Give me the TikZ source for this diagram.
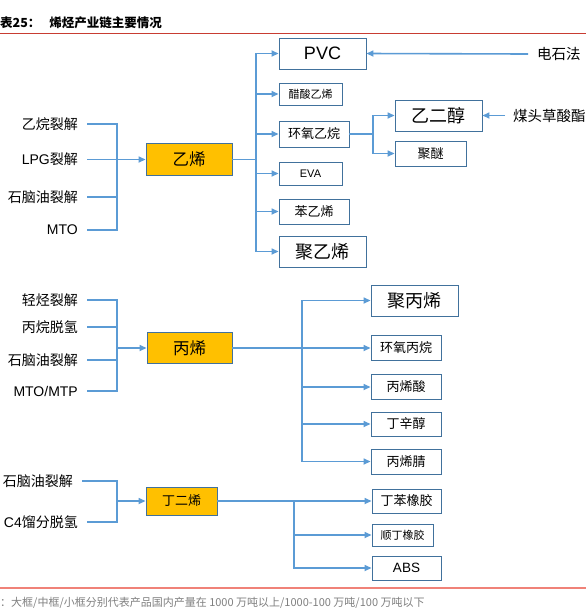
\documentclass[tikz,border=0pt]{standalone}
\usepackage{fontspec}
\setmainfont{Noto Sans CJK SC}
\newfontfamily\latin{Liberation Sans}
\usepackage{tikz}
\usetikzlibrary{arrows.meta}
\definecolor{flowblue}{RGB}{91,155,213}
\definecolor{boxedge}{RGB}{65,113,156}
\definecolor{olefin}{RGB}{255,192,0}
\definecolor{titlered}{RGB}{200,60,50}
\definecolor{notered}{RGB}{240,130,120}
\definecolor{notegray}{RGB}{128,128,128}

\begin{document}
\begin{tikzpicture}[x=1pt,y=-1pt,
    flow/.style={flowblue,line width=1.6pt},
    feedarrow/.style={flow,-{Triangle[length=7pt,width=6pt]}},
    src/.style={anchor=east,inner xsep=9pt,inner ysep=0pt,font=\fontsize{14}{16}\selectfont},
    side/.style={anchor=west,inner xsep=9pt,inner ysep=0pt,font=\fontsize{14.5}{16}\selectfont},
    olefinbox/.style={draw=boxedge,fill=olefin,line width=0.9pt,inner sep=0pt},
    bigbox/.style={draw=boxedge,line width=0.9pt,inner sep=0pt,minimum width=87pt,minimum height=31pt,font=\fontsize{18}{20}\selectfont},
    midbox/.style={draw=boxedge,line width=0.9pt,inner sep=0pt,minimum width=70pt,minimum height=25pt,font=\fontsize{13}{15}\selectfont},
    smallbox/.style={draw=boxedge,line width=0.9pt,inner sep=0pt,minimum width=62pt,minimum height=22pt,font=\fontsize{11}{13}\selectfont}
  ]
    \path[use as bounding box,fill=white] (0,0) rectangle (586,614);
    \clip (0,0) rectangle (586,614);

    % Title and rules
    \node[anchor=west,inner sep=0pt,font=\fontsize{12.5}{14}\selectfont\bfseries] (title) at (0,23) {表25：\hspace{9pt}烯烃产业链主要情况};
    \draw[titlered,line width=1pt] (0,33) -- (586,33);
    \draw[notered,line width=1.5pt] (0,588) -- (586,588);
    \node[anchor=west,inner sep=0pt,notegray,font=\fontsize{11}{12}\selectfont] (note) at (0,603) {：大框/中框/小框分别代表产品国内产量在 1000 万吨以上/1000-100 万吨/100 万吨以下};

    % Ethylene chain
    \node[src] (ethane) at (87,124) {乙烷裂解};
    \node[src] (lpg) at (87,159.5) {{\latin LPG}裂解};
    \node[src] (naph1) at (87,197) {石脑油裂解};
    \node[src] (mto) at (87,230) {{\latin MTO}};
    \coordinate (ein) at (117,159.5);
    \node[olefinbox,minimum width=86pt,minimum height=32pt,font=\fontsize{16.5}{18}\selectfont] (eth) at (189,159.5) {乙烯};
    \foreach \s in {ethane,lpg,naph1,mto}
        \draw[flow] (\s.east) -| (ein);
    \draw[feedarrow] (ein) -- (eth.west);

    \node[bigbox] (pvc) at (322.5,53.5) {\latin PVC};
    \node[smallbox,minimum width=63pt] (vac) at (310.5,94) {醋酸乙烯};
    \node[midbox,minimum height=26pt] (eo) at (314,134) {环氧乙烷};
    \node[smallbox,minimum width=63pt,minimum height=23pt,font=\fontsize{11}{13}\selectfont\latin] (eva) at (310.5,173.5) {EVA};
    \node[midbox] (sty) at (314,211.5) {苯乙烯};
    \node[bigbox] (pe) at (322.5,251.5) {聚乙烯};
    \coordinate (eout) at (256,159.5);
    \draw[flow] (eth.east) -- (eout);
    \foreach \p in {pvc,vac,eo,eva,sty,pe}
        \draw[feedarrow] (eout) |- (\p.west);

    \node[side] (carbide) at (528,54) {电石法};
    \draw[feedarrow] (carbide.west) -- (pvc.east);

    % Ethylene oxide branch
    \node[bigbox] (meg) at (438.5,115.5) {乙二醇};
    \node[midbox,minimum width=71pt] (pether) at (430.5,153.5) {聚醚};
    \coordinate (eobus) at (373,134);
    \draw[flow] (eo.east) -- (eobus);
    \draw[feedarrow] (eobus) |- (meg.west);
    \draw[feedarrow] (eobus) |- (pether.west);
    \node[side,inner xsep=8pt] (coalox) at (505,115.5) {煤头草酸酯};
    \draw[feedarrow] (coalox.west) -- (meg.east);

    % Propylene chain
    \node[src] (lhc) at (87,300) {轻烃裂解};
    \node[src] (pdh) at (87,327) {丙烷脱氢};
    \node[src] (naph2) at (87,360) {石脑油裂解};
    \node[src] (mtp) at (87,391) {{\latin MTO/MTP}};
    \coordinate (pin) at (117,348);
    \node[olefinbox,minimum width=85pt,minimum height=31pt,font=\fontsize{16.5}{18}\selectfont] (prop) at (189.5,348) {丙烯};
    \foreach \s in {lhc,pdh,naph2,mtp}
        \draw[flow] (\s.east) -| (pin);
    \draw[feedarrow] (pin) -- (prop.west);

    \node[bigbox] (pp) at (414.5,300.5) {聚丙烯};
    \node[midbox] (po) at (406,348) {环氧丙烷};
    \node[midbox] (aa) at (406,387) {丙烯酸};
    \node[midbox,minimum height=24pt] (boa) at (406,424) {丁辛醇};
    \node[midbox] (an) at (406,461.5) {丙烯腈};
    \coordinate (pout) at (302,348);
    \draw[flow] (prop.east) -- (pout);
    \foreach \p in {pp,po,aa,boa,an}
        \draw[feedarrow] (pout) |- (\p.west);

    % Butadiene chain
    \node[src,anchor=east] (naph3) at (82,481) {石脑油裂解};
    \node[src] (cfour) at (87,522) {{\latin C4}馏分脱氢};
    \coordinate (bin) at (117,501);
    \node[olefinbox,minimum width=71pt,minimum height=28pt,font=\fontsize{13}{15}\selectfont] (buta) at (181.5,501) {丁二烯};
    \foreach \s in {naph3,cfour}
        \draw[flow] (\s.east) -| (bin);
    \draw[feedarrow] (bin) -- (buta.west);

    \node[midbox,minimum width=69pt,minimum height=24pt] (sbr) at (406.5,501) {丁苯橡胶};
    \node[smallbox,minimum width=61pt] (br) at (402.5,535) {顺丁橡胶};
    \node[midbox,minimum width=69pt,minimum height=24pt,font=\fontsize{13.5}{15}\selectfont\latin] (abs) at (406.5,568) {ABS};
    \coordinate (bout) at (294,501);
    \draw[flow] (buta.east) -- (bout);
    \foreach \p in {sbr,br,abs}
        \draw[feedarrow] (bout) |- (\p.west);
\end{tikzpicture}
\end{document}
